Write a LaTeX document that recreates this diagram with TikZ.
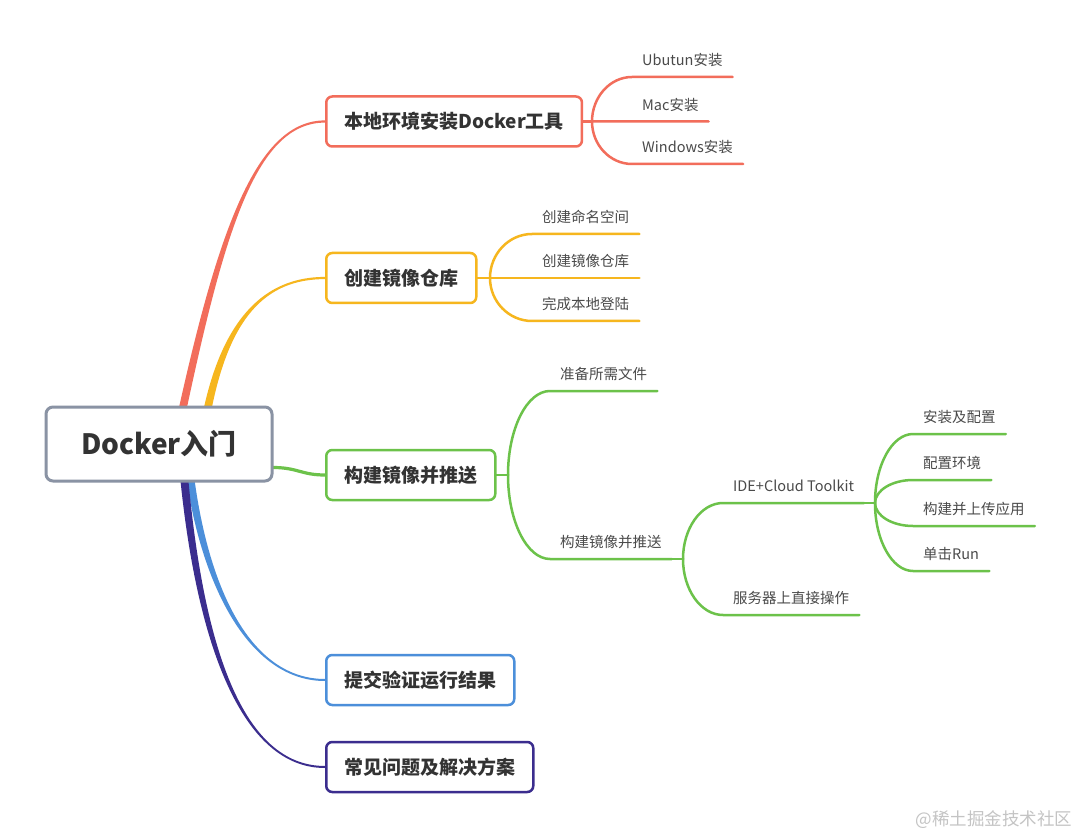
\documentclass[tikz,border=0pt]{standalone}
\usepackage{fontspec}
\setmainfont{Noto Sans CJK SC}
\usetikzlibrary{calc,backgrounds}
\definecolor{cRed}{HTML}{F26D5B}
\definecolor{cOrg}{HTML}{F6B61E}
\definecolor{cGrn}{HTML}{6CC24A}
\definecolor{cBlu}{HTML}{4C8FDA}
\definecolor{cPur}{HTML}{3B2D8E}
\definecolor{cRoot}{HTML}{8A93A4}
\definecolor{txtMain}{HTML}{333333}
\definecolor{txtLeaf}{HTML}{4A4A4A}
\definecolor{txtMark}{HTML}{C4C4C4}
\tikzset{
  rootbox/.style={draw=cRoot, line width=3pt, rounded corners=7pt, fill=white,
    minimum width=226pt, minimum height=74pt, text=txtMain,
    font=\fontsize{28}{31}\selectfont\bfseries},
  mainbox/.style={draw=#1, line width=2.5pt, rounded corners=6pt, fill=white,
    minimum height=50pt, inner xsep=18pt, anchor=west, text=txtMain,
    font=\fontsize{19}{22}\selectfont\bfseries},
  leaf/.style={inner xsep=10pt, inner ysep=11pt, text depth=0pt, anchor=south west,
    text=txtLeaf, font=\fontsize{14.5}{17}\selectfont},
  subline/.style={draw=#1, line width=2.5pt, line cap=round},
}
\newcommand\subbr[3]{%
  \draw[subline=#1] (#2) .. controls ($(#2 |- #3.south west)!0.45!(#2)$) and ($(#2 |- #3.south west)!0.45!(#3.south west)$) .. (#3.south west) -- (#3.south east);}
\newcommand\taperbr[7]{%
  \fill[#1] ($#2+(-#6,0)$) .. controls ($#3+(-#6*0.8,0)$) and ($#4+(0,#7)$) .. ($#5+(0,#7)$)
    -- ($#5-(0,#7)$) .. controls ($#4-(0,#7)$) and ($#3+(#6*0.8,0)$) .. ($#2+(#6,0)$) -- cycle;}
\begin{document}
\begin{tikzpicture}[x=1pt,y=-1pt]
\useasboundingbox (0,0) rectangle (1080,837);

% main nodes
\node[rootbox] (root) at (159,444) {Docker入门};
\node[mainbox=cRed] (b1) at (325,121.5) {本地环境安装Docker工具};
\node[mainbox=cOrg] (b2) at (325,278) {创建镜像仓库};
\node[mainbox=cGrn] (b3) at (325,475) {构建镜像并推送};
\node[mainbox=cBlu] (b4) at (325,680) {提交验证运行结果};
\node[mainbox=cPur] (b5) at (325,767) {常见问题及解决方案};

% junctions
\coordinate (j1) at (592,121.5);
\coordinate (j2) at (490,278);
\coordinate (j3) at (508,475);
\coordinate (j4) at (683,559);
\coordinate (j5) at (875,503);

% leaves
\node[leaf] (l11) at (632,77) {Ubutun安装};
\node[leaf] (l12) at (632,121.5) {Mac安装};
\node[leaf] (l13) at (632,164) {Windows安装};
\node[leaf] (l21) at (532,234) {创建命名空间};
\node[leaf] (l22) at (532,278) {创建镜像仓库};
\node[leaf] (l23) at (532,321) {完成本地登陆};
\node[leaf] (l31) at (550,391) {准备所需文件};
\node[leaf] (l32) at (550,559) {构建镜像并推送};
\node[leaf] (l41) at (723,503) {IDE+Cloud Toolkit};
\node[leaf] (l42) at (723,615) {服务器上直接操作};
\node[leaf] (l51) at (913,434) {安装及配置};
\node[leaf] (l52) at (913,480) {配置环境};
\node[leaf] (l53) at (913,526) {构建并上传应用};
\node[leaf] (l54) at (913,571) {单击Run};

\node[anchor=west, text=txtMark, font=\fontsize{17.5}{20}\selectfont] (wm) at (912,820) {@稀土掘金技术社区};

\begin{pgfonlayer}{background}
  \fill[white] (0,0) rectangle (1080,837);
  % tapered main branches
  \coordinate (s1) at (182,412);
  \coordinate (s2) at (207,412);
  \coordinate (s4) at (190,476);
  \coordinate (s5) at (184,476);
  \taperbr{cRed}{(s1)}{(222,228)}{(257,121.5)}{(b1.west)}{4}{-1.1}
  \taperbr{cOrg}{(s2)}{(226,318)}{(265,278)}{(b2.west)}{4}{-1.1}
  \taperbr{cBlu}{(s4)}{(206,592)}{(252,680)}{(b4.west)}{4}{1}
  \taperbr{cPur}{(s5)}{(200,645)}{(242,767)}{(b5.west)}{4}{1}
  \coordinate (s3) at (262,467.5);
  \draw[cGrn, line width=3.2pt] (s3) -- (275,467.5) .. controls (298,468) and (302,475) .. (b3.west);

  % stubs
  \draw[subline=cRed] (b1.east) -- (j1);
  \draw[subline=cOrg] (b2.east) -- (j2);
  \draw[subline=cGrn] (b3.east) -- (j3);
  % sub branches
  \subbr{cRed}{j1}{l11}
  \subbr{cRed}{j1}{l12}
  \subbr{cRed}{j1}{l13}
  \subbr{cOrg}{j2}{l21}
  \subbr{cOrg}{j2}{l22}
  \subbr{cOrg}{j2}{l23}
  \subbr{cGrn}{j3}{l31}
  \subbr{cGrn}{j3}{l32}
  \draw[subline=cGrn] (l32.south east) -- (j4);
  \subbr{cGrn}{j4}{l41}
  \subbr{cGrn}{j4}{l42}
  \draw[subline=cGrn] (l41.south east) -- (j5);
  \subbr{cGrn}{j5}{l51}
  \subbr{cGrn}{j5}{l52}
  \subbr{cGrn}{j5}{l53}
  \subbr{cGrn}{j5}{l54}
\end{pgfonlayer}
\end{tikzpicture}
\end{document}
